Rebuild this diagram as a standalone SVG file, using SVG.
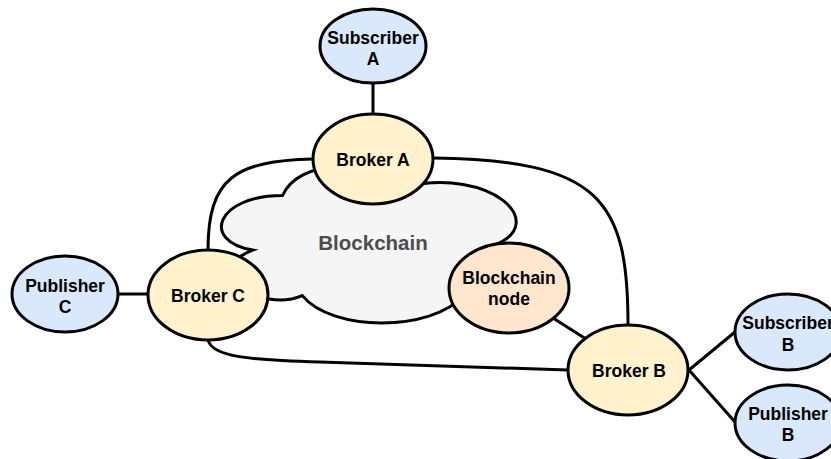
<svg xmlns="http://www.w3.org/2000/svg" width="831" height="459" viewBox="0 0 831 459">
<style>
.n{stroke:#000;stroke-width:3}
.broker{fill:#FFF2CC}
.client{fill:#DAE8FC}
.bnode{fill:#FFE6CC}
.cloud{fill:#F5F5F5;stroke:#000;stroke-width:3}
.e{fill:none;stroke:#000;stroke-width:3}
text{font-family:"Liberation Sans",Arial,sans-serif;font-weight:bold;font-size:17.5px;fill:#000;text-anchor:middle}
.big{font-size:20.5px;fill:#4D4D4D}
</style>
<rect width="831" height="459" fill="#fff"/>
<g id="cloud">
<path class="cloud" d="M282.5,195.5 C216.5,195.5 200,241 252.8,250.1 C200,270.1 259.4,313.8 302.3,295.6 C332,332 431,332 464,295.6 C530,295.6 535,259.2 495,245 C550,222 490,168 406.25,186.4 C365,159.1 299,159.1 282.5,195.5 Z"/>
<text class="big" x="373" y="250">Blockchain</text>
</g>
<g id="connectors">
<line class="e" x1="373" y1="83" x2="373" y2="114"/>
<line class="e" x1="118" y1="294" x2="148" y2="294"/>
<path class="e" d="M313,159 C235,161 208,178 208,250"/>
<path class="e" d="M433,158 C600,160 628,200 628,325"/>
<path class="e" d="M208,340 C212,357 250,360 320,362 L568,370"/>
<line class="e" x1="553" y1="318" x2="586" y2="339"/>
<line class="e" x1="689" y1="370" x2="735" y2="332"/>
<line class="e" x1="689" y1="370" x2="735" y2="422"/>
</g>
<g id="subscriberA">
<ellipse class="n client" cx="373" cy="46" rx="53" ry="37"/>
<text x="373" y="44">Subscriber</text>
<text x="373" y="65">A</text>
</g>
<g id="brokerA">
<ellipse class="n broker" cx="373" cy="159" rx="60" ry="45"/>
<text x="373" y="166">Broker A</text>
</g>
<g id="brokerC">
<ellipse class="n broker" cx="208" cy="295" rx="60" ry="45"/>
<text x="208" y="302">Broker C</text>
</g>
<g id="publisherC">
<ellipse class="n client" cx="65" cy="294" rx="53" ry="38"/>
<text x="65" y="292">Publisher</text>
<text x="65" y="313">C</text>
</g>
<g id="blockchainNode">
<ellipse class="n bnode" cx="509" cy="288" rx="60" ry="45"/>
<text x="509" y="284">Blockchain</text>
<text x="509" y="305">node</text>
</g>
<g id="brokerB">
<ellipse class="n broker" cx="628" cy="370" rx="60" ry="45"/>
<text x="629" y="377">Broker B</text>
</g>
<g id="subscriberB">
<ellipse class="n client" cx="788" cy="332" rx="53" ry="38"/>
<text x="788" y="329">Subscriber</text>
<text x="788" y="351">B</text>
</g>
<g id="publisherB">
<ellipse class="n client" cx="788" cy="423" rx="53" ry="38"/>
<text x="788" y="420">Publisher</text>
<text x="788" y="441">B</text>
</g>
</svg>
